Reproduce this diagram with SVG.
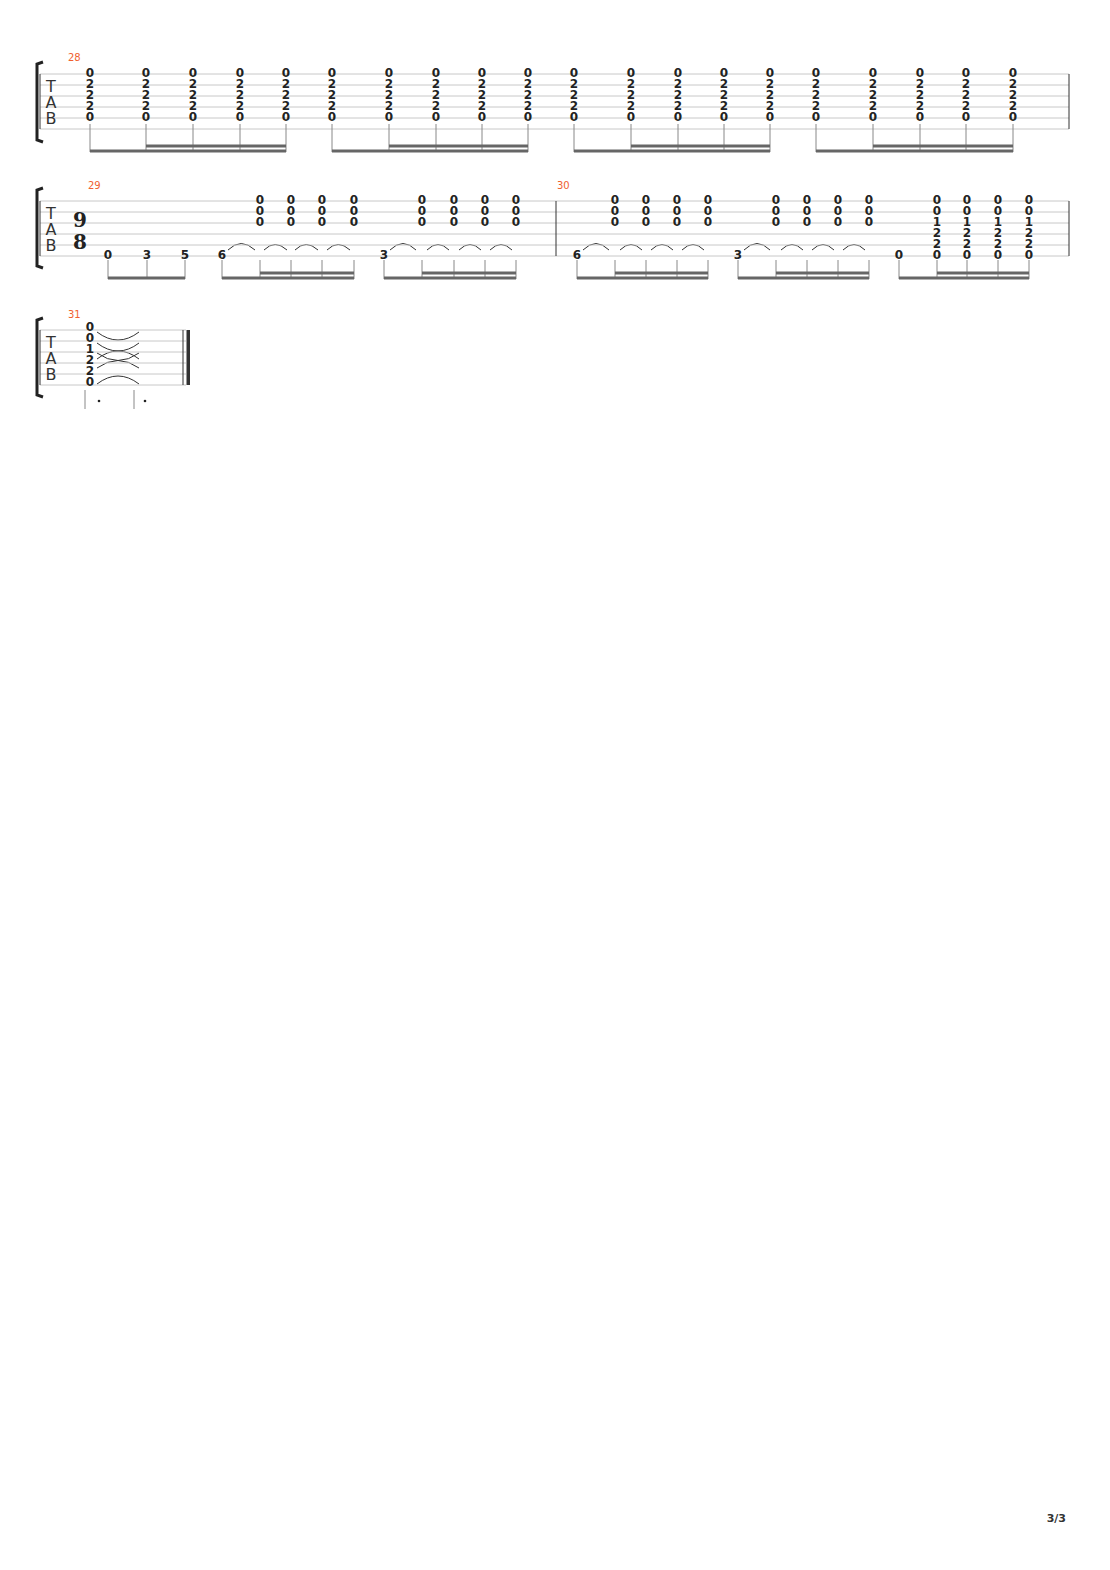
<svg xmlns="http://www.w3.org/2000/svg" width="1110" height="1570" viewBox="0 0 1110 1570">
<style>
.ln{stroke:#c8c8c8;stroke-width:1}
.bar{stroke:#333;stroke-width:1}
.n{font-family:"DejaVu Sans",sans-serif;font-size:12px;font-weight:bold;fill:#222;text-anchor:middle}
.tab{font-family:"DejaVu Sans",sans-serif;font-size:16px;fill:#333;text-anchor:middle}
.mn{font-family:"DejaVu Sans",sans-serif;font-size:10px;fill:#f06030}
.st{stroke:#888;stroke-width:1}
.bm{stroke:#666;stroke-width:3}
.arc{fill:none;stroke:#333;stroke-width:1}
.br{fill:none;stroke:#222;stroke-width:3}
</style>
<rect width="1110" height="1570" fill="#fff"/>
<g id="system1">
<path class="br" d="M43 62 L37 64 L37 140 L43 142"/>
<g class="ln"><line x1="40" y1="74" x2="1069" y2="74"/><line x1="40" y1="85" x2="1069" y2="85"/><line x1="40" y1="96" x2="1069" y2="96"/><line x1="40" y1="107" x2="1069" y2="107"/><line x1="40" y1="118" x2="1069" y2="118"/><line x1="40" y1="129" x2="1069" y2="129"/></g>
<line class="bar" x1="40" y1="74" x2="40" y2="129"/><line class="bar" x1="1069" y1="74" x2="1069" y2="129"/>
<text class="tab" x="51" y="92">T</text><text class="tab" x="51" y="108">A</text><text class="tab" x="51" y="124">B</text>
<text class="mn" x="68" y="61">28</text>
</g>
<g id="notes1" class="n">
<text x="90" y="77">0</text><text x="90" y="88">2</text><text x="90" y="99">2</text><text x="90" y="110">2</text><text x="90" y="121">0</text>
<text x="146" y="77">0</text><text x="146" y="88">2</text><text x="146" y="99">2</text><text x="146" y="110">2</text><text x="146" y="121">0</text>
<text x="193" y="77">0</text><text x="193" y="88">2</text><text x="193" y="99">2</text><text x="193" y="110">2</text><text x="193" y="121">0</text>
<text x="240" y="77">0</text><text x="240" y="88">2</text><text x="240" y="99">2</text><text x="240" y="110">2</text><text x="240" y="121">0</text>
<text x="286" y="77">0</text><text x="286" y="88">2</text><text x="286" y="99">2</text><text x="286" y="110">2</text><text x="286" y="121">0</text>
<text x="332" y="77">0</text><text x="332" y="88">2</text><text x="332" y="99">2</text><text x="332" y="110">2</text><text x="332" y="121">0</text>
<text x="389" y="77">0</text><text x="389" y="88">2</text><text x="389" y="99">2</text><text x="389" y="110">2</text><text x="389" y="121">0</text>
<text x="436" y="77">0</text><text x="436" y="88">2</text><text x="436" y="99">2</text><text x="436" y="110">2</text><text x="436" y="121">0</text>
<text x="482" y="77">0</text><text x="482" y="88">2</text><text x="482" y="99">2</text><text x="482" y="110">2</text><text x="482" y="121">0</text>
<text x="528" y="77">0</text><text x="528" y="88">2</text><text x="528" y="99">2</text><text x="528" y="110">2</text><text x="528" y="121">0</text>
<text x="574" y="77">0</text><text x="574" y="88">2</text><text x="574" y="99">2</text><text x="574" y="110">2</text><text x="574" y="121">0</text>
<text x="631" y="77">0</text><text x="631" y="88">2</text><text x="631" y="99">2</text><text x="631" y="110">2</text><text x="631" y="121">0</text>
<text x="678" y="77">0</text><text x="678" y="88">2</text><text x="678" y="99">2</text><text x="678" y="110">2</text><text x="678" y="121">0</text>
<text x="724" y="77">0</text><text x="724" y="88">2</text><text x="724" y="99">2</text><text x="724" y="110">2</text><text x="724" y="121">0</text>
<text x="770" y="77">0</text><text x="770" y="88">2</text><text x="770" y="99">2</text><text x="770" y="110">2</text><text x="770" y="121">0</text>
<text x="816" y="77">0</text><text x="816" y="88">2</text><text x="816" y="99">2</text><text x="816" y="110">2</text><text x="816" y="121">0</text>
<text x="873" y="77">0</text><text x="873" y="88">2</text><text x="873" y="99">2</text><text x="873" y="110">2</text><text x="873" y="121">0</text>
<text x="920" y="77">0</text><text x="920" y="88">2</text><text x="920" y="99">2</text><text x="920" y="110">2</text><text x="920" y="121">0</text>
<text x="966" y="77">0</text><text x="966" y="88">2</text><text x="966" y="99">2</text><text x="966" y="110">2</text><text x="966" y="121">0</text>
<text x="1013" y="77">0</text><text x="1013" y="88">2</text><text x="1013" y="99">2</text><text x="1013" y="110">2</text><text x="1013" y="121">0</text>
</g>
<g id="connectors">
<g class="st">
<path d="M90 124V152M146 124V152M193 124V152M240 124V152M286 124V152M332 124V152M389 124V152M436 124V152M482 124V152M528 124V152M574 124V152M631 124V152M678 124V152M724 124V152M770 124V152M816 124V152M873 124V152M920 124V152M966 124V152M1013 124V152"/>
<path d="M108 260V279M147 260V279M185 260V279M222 260V279M260 260V279M291 260V279M322 260V279M354 260V279M384 260V279M422 260V279M454 260V279M485 260V279M516 260V279M577 260V279M615 260V279M646 260V279M677 260V279M708 260V279M738 260V279M776 260V279M807 260V279M838 260V279M869 260V279M899 260V279M937 260V279M967 260V279M998 260V279M1029 260V279"/>
<path d="M85 390V409M134 390V409"/>
</g>
<g class="bm">
<path d="M90 151H286M146 146H286M332 151H528M389 146H528M574 151H770M631 146H770M816 151H1013M873 146H1013"/>
<path d="M108 278H185M222 278H354M260 273H354M384 278H516M422 273H516M577 278H708M615 273H708M738 278H869M776 273H869M899 278H1029M937 273H1029"/>
</g>
<circle cx="99" cy="401" r="1.3" fill="#222"/><circle cx="145" cy="401" r="1.3" fill="#222"/>
<g class="arc">
<path d="M228 250Q241 237 255 250M264 250Q275 239 287 250M295 250Q306 239 318 250M327 250Q338 239 350 250"/>
<path d="M390 250Q403 237 416 250M427 250Q438 239 449 250M459 250Q470 239 481 250M490 250Q501 239 512 250"/>
<path d="M583 250Q596 237 609 250M620 250Q631 239 642 250M651 250Q662 239 673 250M682 250Q693 239 704 250"/>
<path d="M744 250Q757 237 770 250M781 250Q792 239 803 250M812 250Q823 239 834 250M843 250Q854 239 865 250"/>
<path d="M97 332Q118 348 139 332M97 343Q118 359 139 343M97 359Q118 343 139 359M97 353Q118 368 139 353M97 368Q118 353 139 368M97 384Q118 368 139 384"/>
</g>
</g>
<g id="system2">
<path class="br" d="M43 188 L37 190 L37 266 L43 268"/>
<g class="ln"><line x1="40" y1="201" x2="1069" y2="201"/><line x1="40" y1="212" x2="1069" y2="212"/><line x1="40" y1="223" x2="1069" y2="223"/><line x1="40" y1="234" x2="1069" y2="234"/><line x1="40" y1="245" x2="1069" y2="245"/><line x1="40" y1="256" x2="1069" y2="256"/></g>
<line class="bar" x1="40" y1="201" x2="40" y2="256"/><line class="bar" x1="556" y1="201" x2="556" y2="256"/><line class="bar" x1="1069" y1="201" x2="1069" y2="256"/>
<text class="tab" x="51" y="219">T</text><text class="tab" x="51" y="235">A</text><text class="tab" x="51" y="251">B</text>
<text class="mn" x="88" y="189">29</text><text class="mn" x="557" y="189">30</text>
<text x="80" y="227" font-family="DejaVu Serif,serif" font-size="20" font-weight="bold" text-anchor="middle" fill="#222">9</text>
<text x="80" y="249" font-family="DejaVu Serif,serif" font-size="20" font-weight="bold" text-anchor="middle" fill="#222">8</text>
<g class="n">
<text x="108" y="259">0</text><text x="147" y="259">3</text><text x="185" y="259">5</text><text x="222" y="259">6</text><text x="384" y="259">3</text><text x="577" y="259">6</text><text x="738" y="259">3</text><text x="899" y="259">0</text>
<text x="260" y="204">0</text><text x="260" y="215">0</text><text x="260" y="226">0</text>
<text x="291" y="204">0</text><text x="291" y="215">0</text><text x="291" y="226">0</text>
<text x="322" y="204">0</text><text x="322" y="215">0</text><text x="322" y="226">0</text>
<text x="354" y="204">0</text><text x="354" y="215">0</text><text x="354" y="226">0</text>
<text x="422" y="204">0</text><text x="422" y="215">0</text><text x="422" y="226">0</text>
<text x="454" y="204">0</text><text x="454" y="215">0</text><text x="454" y="226">0</text>
<text x="485" y="204">0</text><text x="485" y="215">0</text><text x="485" y="226">0</text>
<text x="516" y="204">0</text><text x="516" y="215">0</text><text x="516" y="226">0</text>
<text x="615" y="204">0</text><text x="615" y="215">0</text><text x="615" y="226">0</text>
<text x="646" y="204">0</text><text x="646" y="215">0</text><text x="646" y="226">0</text>
<text x="677" y="204">0</text><text x="677" y="215">0</text><text x="677" y="226">0</text>
<text x="708" y="204">0</text><text x="708" y="215">0</text><text x="708" y="226">0</text>
<text x="776" y="204">0</text><text x="776" y="215">0</text><text x="776" y="226">0</text>
<text x="807" y="204">0</text><text x="807" y="215">0</text><text x="807" y="226">0</text>
<text x="838" y="204">0</text><text x="838" y="215">0</text><text x="838" y="226">0</text>
<text x="869" y="204">0</text><text x="869" y="215">0</text><text x="869" y="226">0</text>
<text x="937" y="204">0</text><text x="937" y="215">0</text><text x="937" y="226">1</text><text x="937" y="237">2</text><text x="937" y="248">2</text><text x="937" y="259">0</text>
<text x="967" y="204">0</text><text x="967" y="215">0</text><text x="967" y="226">1</text><text x="967" y="237">2</text><text x="967" y="248">2</text><text x="967" y="259">0</text>
<text x="998" y="204">0</text><text x="998" y="215">0</text><text x="998" y="226">1</text><text x="998" y="237">2</text><text x="998" y="248">2</text><text x="998" y="259">0</text>
<text x="1029" y="204">0</text><text x="1029" y="215">0</text><text x="1029" y="226">1</text><text x="1029" y="237">2</text><text x="1029" y="248">2</text><text x="1029" y="259">0</text>
</g>
</g>
<g id="system3">
<path class="br" d="M43 318 L37 320 L37 395 L43 397"/>
<g class="ln"><line x1="40" y1="330" x2="186" y2="330"/><line x1="40" y1="341" x2="186" y2="341"/><line x1="40" y1="352" x2="186" y2="352"/><line x1="40" y1="363" x2="186" y2="363"/><line x1="40" y1="374" x2="186" y2="374"/><line x1="40" y1="385" x2="186" y2="385"/></g>
<line class="bar" x1="40" y1="330" x2="40" y2="385"/><line class="bar" x1="183" y1="330" x2="183" y2="385"/>
<rect x="186.5" y="330" width="3.5" height="55" fill="#333"/>
<text class="tab" x="51" y="348">T</text><text class="tab" x="51" y="364">A</text><text class="tab" x="51" y="380">B</text>
<text class="mn" x="68" y="318">31</text>
<g class="n">
<text x="90" y="331">0</text><text x="90" y="342">0</text><text x="90" y="353">1</text><text x="90" y="364">2</text><text x="90" y="375">2</text><text x="90" y="386">0</text>
</g>
</g>
<text x="1066" y="1522" font-family="DejaVu Sans,sans-serif" font-size="11" font-weight="bold" fill="#333" text-anchor="end">3/3</text>
</svg>
